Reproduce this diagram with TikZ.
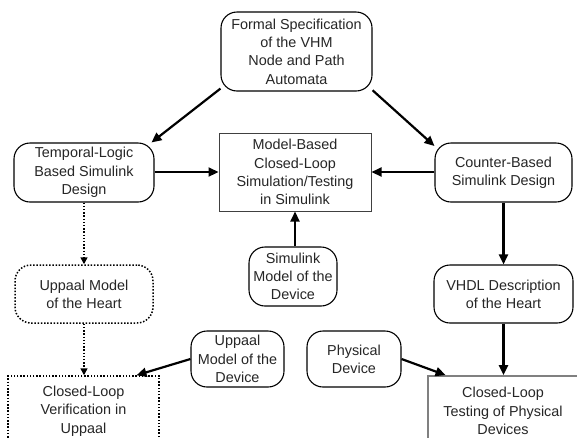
\documentclass[tikz,border=0pt]{standalone}
\usepackage{fontspec}
\setmainfont{Liberation Sans}
\usetikzlibrary{arrows.meta}
\begin{document}
\begin{tikzpicture}[x=1pt,y=-1pt,
  every node/.style={font=\fontsize{14.4}{18.3}\selectfont, align=center, inner sep=0pt, text=black!85},
  rbox/.style={draw, line width=1.1pt, rounded corners=16pt},
  dbox/.style={draw, line width=1.5pt, dash pattern=on 1.5pt off 1.7pt},
  sbox/.style={draw=black!75, line width=1pt},
  gbox/.style={draw=black!50, line width=1.8pt},
  arr/.style={line width=2.2pt, -{Triangle[length=10pt,width=9pt]}},
  darr/.style={line width=1.5pt, dash pattern=on 1.5pt off 1.7pt, -{Triangle[length=7pt,width=7pt]}}]
\clip (0,0) rectangle (577,437);
\fill[white] (0,0) rectangle (577,437);
\node[rbox, minimum width=151pt, minimum height=79pt] (top) at (296.5,51.5)
  {Formal Specification\\of the VHM\\Node and Path\\Automata};
\node[rbox, minimum width=140pt, minimum height=59pt] (left) at (84,172.5)
  {Temporal-Logic\\Based Simulink\\Design};
\node[sbox, minimum width=152pt, minimum height=78pt] (mid) at (295,172)
  {Model-Based\\Closed-Loop\\Simulation/Testing\\in Simulink};
\node[rbox, minimum width=137pt, minimum height=59pt] (right) at (503.5,172.5)
  {Counter-Based\\Simulink Design};
\node[rbox, minimum width=88pt, minimum height=59pt] (sim) at (293,276.5)
  {Simulink\\Model of the\\Device};
\node[dbox, rounded corners=16pt, minimum width=138pt, minimum height=58pt] (uheart) at (84,294)
  {Uppaal Model\\of the Heart};
\node[rbox, minimum width=139pt, minimum height=58pt] (vhdl) at (503.5,294)
  {VHDL Description\\of the Heart};
\node[rbox, minimum width=93pt, minimum height=56pt] (udev) at (237.5,359)
  {Uppaal\\Model of the\\Device};
\node[rbox, minimum width=94pt, minimum height=56pt] (phys) at (354,359)
  {Physical\\Device};
\node[dbox, minimum width=151pt, minimum height=70pt] (ver) at (83.5,411)
  {Closed-Loop\\Verification in\\Uppaal};
\node[gbox, minimum width=150pt, minimum height=70pt] (test) at (503,411)
  {Closed-Loop\\Testing of Physical\\Devices};
\draw[arr] (top.206) -- (left.24);
\draw[arr] (top.-27) -- (right.159);
\draw[arr] (left.east |- mid) -- (mid.west);
\draw[arr] (right.west |- mid) -- (mid.east);
\draw[arr] (sim.north -| mid) -- (mid.south);
\draw[arr] (right) -- (vhdl);
\draw[arr] (vhdl) -- (vhdl |- test.north);
\draw[darr] (left) -- (uheart);
\draw[darr] (uheart.south) -- (uheart.south |- ver.north);
\draw[arr] (udev.west) -- (ver.34);
\draw[arr] (phys.east) -- (test.148);
\end{tikzpicture}
\end{document}
